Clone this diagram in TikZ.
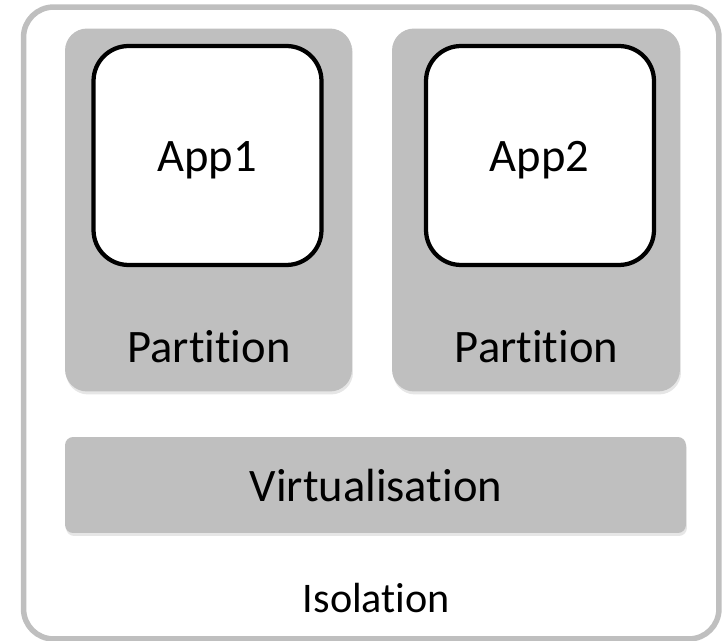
\documentclass[tikz,border=0pt]{standalone}
\usepackage{fontspec}
\setmainfont{Carlito}[Ligatures=NoCommon]
\usetikzlibrary{shadows}
\definecolor{boxgray}{RGB}{191,191,191}

\begin{document}
\begin{tikzpicture}[x=0.02cm, y=-0.02cm]

\tikzset{box/.style = {shape=rectangle, inner sep=0pt, outer sep=0pt}}
\tikzset{layer/.style = {box, fill=boxgray, drop shadow={shadow xshift=0.02cm, shadow yshift=-0.06cm, opacity=0.2}}}
\tikzset{appbox/.style = {box, draw=black, fill=white, line width=0.085cm, rounded corners=0.7cm, minimum width=4.56cm, minimum height=4.38cm}}
\tikzset{bigtext/.style = {anchor=base, font=\fontsize{26.5}{32}\selectfont}}

\useasboundingbox (0,0) rectangle (722,641);

%isolation frame
\node[box, draw=boxgray, line width=0.11cm, rounded corners=0.6cm, minimum width=13.91cm, minimum height=12.64cm] (iso) at (371.25,323) {};

%partitions
\node[layer, rounded corners=0.44cm, minimum width=5.74cm, minimum height=7.26cm] (part1) at (208.5,210) {};
\node[layer, rounded corners=0.44cm, minimum width=5.76cm, minimum height=7.26cm] (part2) at (536,210) {};

%apps
\node[appbox] (app1) at (207.5,155.5) {};
\node[appbox] (app2) at (540,155.5) {};

%virtualisation layer
\node[layer, rounded corners=0.16cm, minimum width=12.42cm, minimum height=1.92cm] (virt) at (375.5,485) {};

%labels
\node[bigtext] (app1text) at (207,172) {App1};
\node[bigtext] (app2text) at (539.5,172) {App2};
\node[bigtext] (part1text) at (209,362) {Partition};
\node[bigtext] (part2text) at (536.5,362) {Partition};
\node[bigtext] (virttext) at (376,501) {Virtualisation};
\node[anchor=base, font=\fontsize{24}{29}\selectfont] (isotext) at (376.5,612) {Isolation};

\end{tikzpicture}
\end{document}
